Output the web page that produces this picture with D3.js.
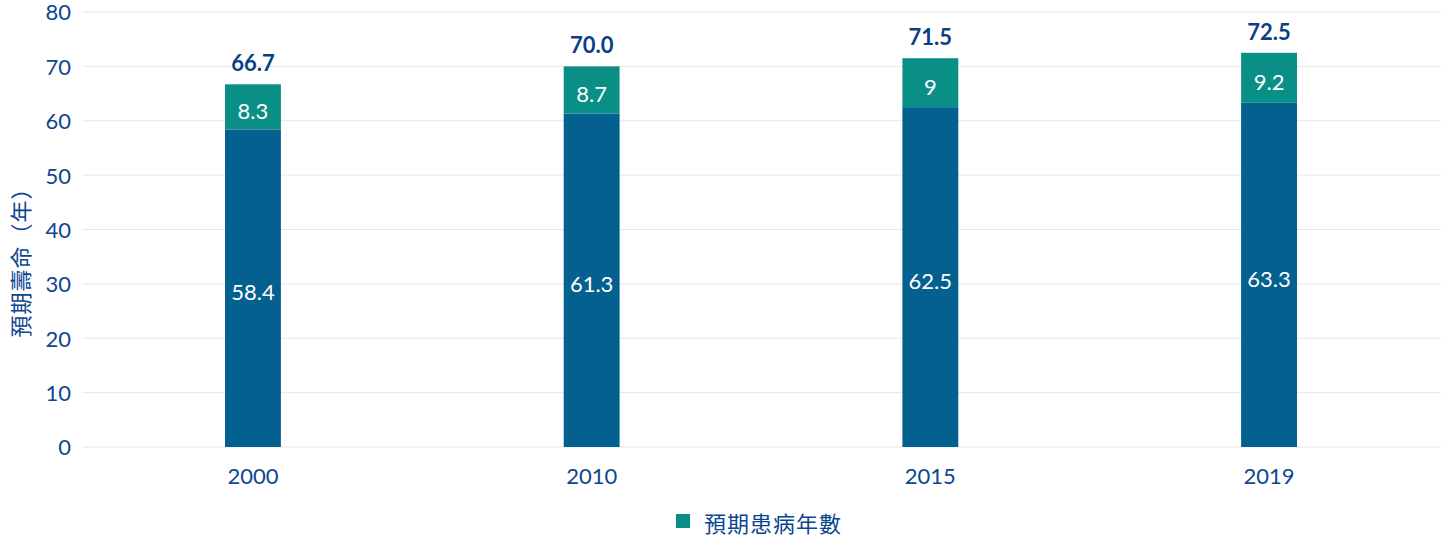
<!DOCTYPE html>
<html><head><meta charset="utf-8">
<script src="https://cdn.jsdelivr.net/npm/d3@7"></script>
<style>
body{margin:0;background:#fff;}
text{font-family:"Lato","Noto Sans CJK TC",sans-serif;}
</style></head>
<body><svg id="c" width="1449" height="551"></svg>
<script>
const categories = ["2000","2010","2015","2019"];
const healthyYears = [58.4, 61.3, 62.5, 63.3];
const sickYears = [8.3, 8.7, 9, 9.2];
const totals = ["66.7","70.0","71.5","72.5"];
const yTicks = [0,10,20,30,40,50,60,70,80];
const yTitle = "預期壽命（年）";
const legendLabel = "預期患病年數";

const svg = d3.select("#c");
const textColor = "#0d4690";
const x = d3.scaleBand().domain(categories).range([83.6,1438.4]).paddingInner(0.835).paddingOuter(0.4175);
const y = d3.scaleLinear().domain([0,80]).range([447,12]);

// grid
svg.append("g").selectAll("line").data(yTicks).join("line")
  .attr("x1",82).attr("x2",1441).attr("y1",d=>y(d)).attr("y2",d=>y(d))
  .attr("stroke","#e6e6e6").attr("stroke-width",1);

// y axis
const yAxis = svg.append("g").attr("transform","translate(71,0)")
  .call(d3.axisLeft(y).tickValues(yTicks).tickSize(0).tickPadding(0));
yAxis.select(".domain").remove();
yAxis.selectAll("text").attr("fill",textColor).attr("font-size",22).attr("dy","0.36em").style("font-family","Lato");

// x axis
const xAxis = svg.append("g").attr("transform","translate(0,468)")
  .call(d3.axisBottom(x).tickSize(0).tickPadding(0));
xAxis.select(".domain").remove();
xAxis.selectAll("text").attr("fill",textColor).attr("font-size",22).attr("dy","0.71em").style("font-family","Lato");

// y title
svg.append("text").attr("transform","translate(19,257) rotate(-90)")
  .attr("text-anchor","middle").attr("dominant-baseline","central").attr("fill",textColor).attr("font-size",22)
  .attr("letter-spacing",1)
  .style("font-family","Noto Sans CJK TC").text(yTitle);

const idx = d3.range(categories.length);
// bottom segment
svg.append("g").selectAll("rect").data(idx).join("rect")
  .attr("x",i=>x(categories[i])).attr("width",x.bandwidth())
  .attr("y",i=>y(healthyYears[i])).attr("height",i=>y(0)-y(healthyYears[i]))
  .attr("fill","#03608f");
// top segment
svg.append("g").selectAll("rect").data(idx).join("rect")
  .attr("x",i=>x(categories[i])).attr("width",x.bandwidth())
  .attr("y",i=>y(healthyYears[i]+sickYears[i])).attr("height",i=>y(healthyYears[i])-y(healthyYears[i]+sickYears[i]))
  .attr("fill","#0a8f87");

// segment labels
svg.append("g").selectAll("text").data(idx).join("text")
  .attr("x",i=>x(categories[i])+x.bandwidth()/2).attr("y",i=>(y(0)+y(healthyYears[i]))/2+4)
  .attr("dy","0.36em").attr("text-anchor","middle").attr("fill","#fff").attr("font-size",22)
  .text(i=>healthyYears[i]);
svg.append("g").selectAll("text").data(idx).join("text")
  .attr("x",i=>x(categories[i])+x.bandwidth()/2).attr("y",i=>(y(healthyYears[i])+y(healthyYears[i]+sickYears[i]))/2+4)
  .attr("dy","0.36em").attr("text-anchor","middle").attr("fill","#fff").attr("font-size",22)
  .text(i=>sickYears[i]);
// totals
svg.append("g").selectAll("text").data(idx).join("text")
  .attr("x",i=>x(categories[i])+x.bandwidth()/2).attr("y",i=>y(healthyYears[i]+sickYears[i])-13)
  .attr("text-anchor","middle").attr("fill","#0a3f85").attr("font-size",22).attr("font-weight","bold")
  .text(i=>totals[i]);

// legend
svg.append("rect").attr("x",676).attr("y",514).attr("width",14).attr("height",14).attr("fill","#0a8f87");
svg.append("text").attr("x",704).attr("y",522).attr("dominant-baseline","central").attr("fill",textColor).attr("font-size",22)
  .attr("letter-spacing",1)
  .style("font-family","Noto Sans CJK TC").text(legendLabel);
</script></body></html>
